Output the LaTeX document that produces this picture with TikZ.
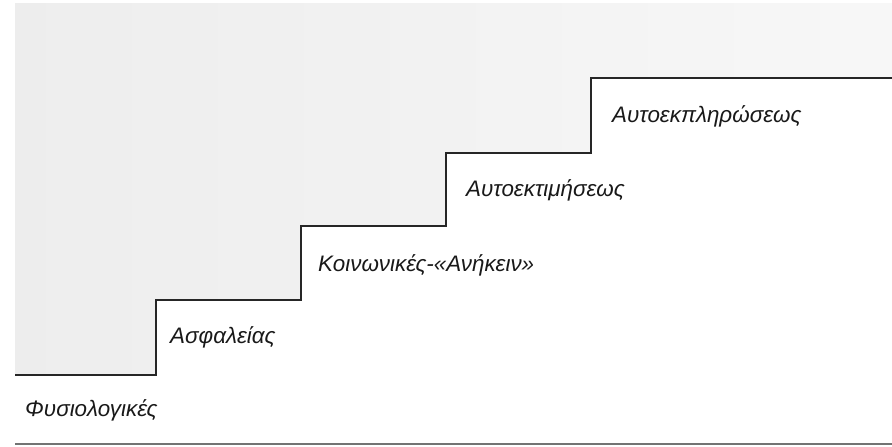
\documentclass[tikz,border=0pt]{standalone}
\usepackage{fontspec}
\setmainfont{Liberation Sans}
\begin{document}
\begin{tikzpicture}[x=1pt,y=-1pt,
  stair/.style={line width=2.4pt,draw=black!85,line join=miter},
  lvl/.style={anchor=west,inner sep=0pt,font=\fontsize{22.4}{26}\selectfont\itshape,text=black!90}]
\useasboundingbox (0,0) rectangle (892,447);
\coordinate (p0) at (15,375);
\coordinate (p1) at (156,375);
\coordinate (p2) at (156,300);
\coordinate (p3) at (301,300);
\coordinate (p4) at (301,226);
\coordinate (p5) at (446,226);
\coordinate (p6) at (446,153);
\coordinate (p7) at (591,153);
\coordinate (p8) at (591,78);
\coordinate (p9) at (892,78);
\coordinate (tl) at (15,3);
\coordinate (tr) at (892,3);
\shade[left color=black!7,right color=black!3]
  (tl) -- (p0) -- (p1) -- (p2) -- (p3) -- (p4) -- (p5) -- (p6) -- (p7) -- (p8) -- (p9) -- (tr) -- cycle;
\draw[stair] (p0) -- (p1) -- (p2) -- (p3) -- (p4) -- (p5) -- (p6) -- (p7) -- (p8) -- (p9);
\coordinate (b0) at (15,444);
\coordinate (b1) at (892,444);
\draw[line width=1.8pt,draw=black!55] (b0) -- (b1);
\node[lvl] (n1) at (25,410) {Φυσιολογικές};
\node[lvl] (n2) at (170,337) {Ασφαλείας};
\node[lvl] (n3) at (318,265) {Κοινωνικές-«Ανήκειν»};
\node[lvl] (n4) at (466,190) {Αυτοεκτιμήσεως};
\node[lvl] (n5) at (612,116) {Αυτοεκπληρώσεως};
\end{tikzpicture}
\end{document}
